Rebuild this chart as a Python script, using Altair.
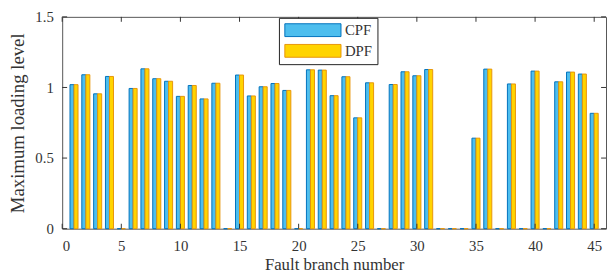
import altair as alt
import pandas as pd

branches = list(range(1, 46))
cpf = [1.02, 1.09, 0.955, 1.078, 0, 0.993, 1.132, 1.062, 1.044, 0.937,
       1.014, 0.919, 1.03, 0, 1.088, 0.94, 1.005, 1.028, 0.979, 0,
       1.125, 1.123, 0.942, 1.076, 0.785, 1.033, 0, 1.021, 1.111, 1.083,
       1.127, 0, 0, 0, 0.641, 1.13, 0, 1.025, 0, 1.116,
       0, 1.04, 1.109, 1.095, 0.817]
dpf = [1.02, 1.09, 0.955, 1.078, 0, 0.993, 1.132, 1.062, 1.044, 0.937,
       1.014, 0.919, 1.03, 0, 1.088, 0.94, 1.005, 1.028, 0.979, 0,
       1.125, 1.123, 0.942, 1.076, 0.785, 1.033, 0, 1.021, 1.111, 1.083,
       1.127, 0, 0, 0, 0.641, 1.13, 0, 1.025, 0, 1.116,
       0, 1.04, 1.109, 1.095, 0.817]
series = ["CPF", "DPF"]
x_ticks = [0, 5, 10, 15, 20, 25, 30, 35, 40, 45]
y_ticks = [0, 0.5, 1, 1.5]

rows = []
for b, c, d in zip(branches, cpf, dpf):
    rows.append({"branch": b, "series": "CPF", "value": c})
    rows.append({"branch": b, "series": "DPF", "value": d})
df = pd.DataFrame(rows)
xt = pd.DataFrame({"x0": x_ticks})
yt = pd.DataFrame({"value": y_ticks})

W, H = 552, 215
FONT = "Liberation Serif, Times New Roman, serif"
TXT = "#333333"
TICK = "#333333"

xscale = alt.Scale(domain=[0, 46], nice=False, zero=False)
yscale = alt.Scale(domain=[0, 1.5], nice=False)

xaxis = alt.Axis(values=x_ticks, ticks=False, domain=False, grid=False,
                 title="Fault branch number", labelFont=FONT, labelFontSize=15,
                 labelColor=TXT, labelPadding=10, titleFont=FONT, titleFontSize=17,
                 titleFontWeight="normal", titleColor=TXT, titlePadding=3)
yaxis = alt.Axis(values=y_ticks, format="~g", ticks=False, domain=False, grid=False,
                 title="Maximum loading level", labelFont=FONT, labelFontSize=15,
                 labelColor=TXT, labelPadding=9, titleFont=FONT, titleFontSize=19,
                 titleFontWeight="normal", titleColor=TXT, titlePadding=8)

bars = alt.Chart(df).transform_calculate(
    x0="datum.series == 'CPF' ? datum.branch - 0.34 : datum.branch",
    x1="datum.series == 'CPF' ? datum.branch : datum.branch + 0.34",
).mark_bar(strokeWidth=1).encode(
    x=alt.X("x0:Q", scale=xscale, axis=xaxis),
    x2="x1:Q",
    y=alt.Y("value:Q", scale=yscale, axis=yaxis),
    y2=alt.datum(0),
    color=alt.Color("series:N",
                    scale=alt.Scale(domain=series, range=["#4DBEEE", "#FFD400"]),
                    legend=alt.Legend(title=None, orient="none", legendX=220, legendY=1,
                                      fillColor="white", strokeColor="#222222",
                                      padding=5, rowPadding=4,
                                      symbolType="M-4.385,-1L4.385,-1L4.385,1L-4.385,1Z",
                                      symbolSize=169, symbolStrokeWidth=1,
                                      symbolOffset=22,
                                      labelFont=FONT, labelFontSize=15, labelColor=TXT,
                                      labelOffset=25)),
    stroke=alt.Stroke("series:N",
                      scale=alt.Scale(domain=series, range=["#0072BD", "#E8950A"]),
                      legend=alt.Legend(title=None, orient="none", legendX=220, legendY=1)),
)

# inward tick marks on all four sides of the box
xt_bottom = alt.Chart(xt).mark_rule(color=TICK, strokeWidth=1).encode(
    x=alt.X("x0:Q", axis=xaxis), y=alt.value(H), y2=alt.value(H - 5))
xt_top = alt.Chart(xt).mark_rule(color=TICK, strokeWidth=1).encode(
    x=alt.X("x0:Q", axis=xaxis), y=alt.value(0), y2=alt.value(5))
yt_left = alt.Chart(yt).mark_rule(color=TICK, strokeWidth=1).encode(
    y=alt.Y("value:Q", axis=yaxis), x=alt.value(0), x2=alt.value(5))
yt_right = alt.Chart(yt).mark_rule(color=TICK, strokeWidth=1).encode(
    y=alt.Y("value:Q", axis=yaxis), x=alt.value(W), x2=alt.value(W - 5))

chart = alt.layer(bars, xt_bottom, xt_top, yt_left, yt_right).properties(
    width=W, height=H, padding=0
).configure(
    font=FONT
).configure_view(
    stroke="#555555", strokeWidth=1
).configure_axis(
    labelFont=FONT, titleFont=FONT
).configure_legend(
    labelFont=FONT
)

chart.save("out.html", embed_options={"renderer": "svg", "actions": False})
